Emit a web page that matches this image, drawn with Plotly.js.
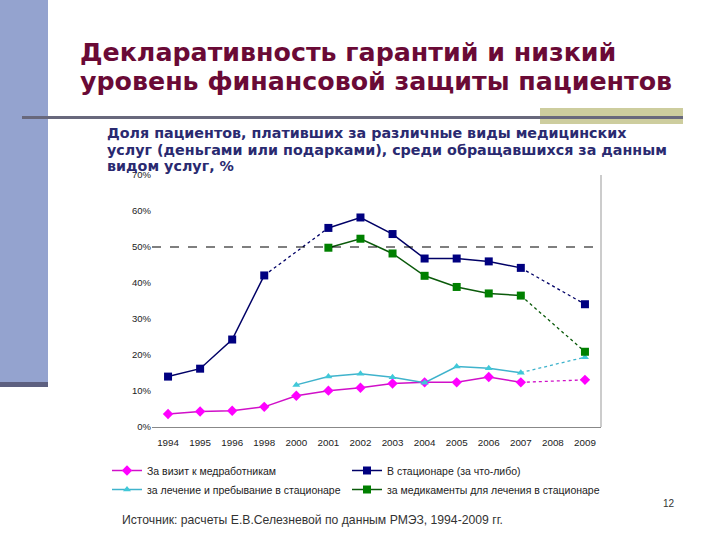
<!DOCTYPE html>
<html>
<head>
<meta charset="utf-8">
<script src="https://cdn.plot.ly/plotly-3.0.1.min.js"></script>
<style>
  html, body { margin: 0; padding: 0; background: #fff; }
  #chart { width: 720px; height: 540px; }
</style>
</head>
<body>
<div id="chart"></div>
<script>
// Years on the category axis (2008 has no observations)
var years = ["1994", "1995", "1996", "1998", "2000", "2001", "2002", "2003", "2004", "2005", "2006", "2007", "2008", "2009"];

// Values, %
var visitVals    = [3.6, 4.3, 4.5, 5.6, 8.7, 10.1, 10.9, 12.1, 12.4, 12.4, 13.9, 12.4, null, 13.1];
var hospitalVals = [14.0, 16.2, 24.3, 42.1, null, 55.3, 58.2, 53.6, 46.8, 46.8, 46.0, 44.2, null, 34.1];
var treatVals    = [null, null, null, null, 11.7, 14.0, 14.8, 13.8, 12.3, 16.8, 16.3, 15.1, null, 19.4];
var drugsVals    = [null, null, null, null, null, 49.8, 52.3, 48.2, 42.0, 38.9, 37.1, 36.5, null, 20.9];

var yTicks = [0, 10, 20, 30, 40, 50, 60, 70];
var yTickText = yTicks.map(function(v) { return v + "%"; });

var titleLines = ["Декларативность гарантий и низкий", "уровень финансовой защиты пациентов"];
var subtitleLines = [
  "Доля пациентов, плативших за различные виды медицинских",
  "услуг (деньгами или подарками), среди обращавшихся за данным",
  "видом услуг, %"
];

var W = 720, H = 540;
var M = { l: 152, r: 119, t: 175, b: 113 };
var pw = W - M.l - M.r, ph = H - M.t - M.b;
function px(x) { return (x - M.l) / pw; }
function py(y) { return (H - M.b - y) / ph; }

// legend: left column "legend", right column "legend2"
var series = [
  { name: "За визит к медработникам", vals: visitVals, line: "#d010c8", marker: "#ff00ff", symbol: "diamond", size: 8, legend: "legend" },
  { name: "В стационаре (за что-либо)", vals: hospitalVals, line: "#000066", marker: "#000080", symbol: "square", size: 8, legend: "legend2" },
  { name: "за лечение и пребывание в стационаре", vals: treatVals, line: "#3fb3cc", marker: "#40c8d8", symbol: "triangle-up", size: 7, legend: "legend" },
  { name: "за медикаменты для лечения в стационаре", vals: drugsVals, line: "#0a5a0a", marker: "#008000", symbol: "square", size: 8, legend: "legend2" }
];

// pairs of known points with only missing values between them
function gapPairs(vals) {
  var pairs = [], last = -1;
  vals.forEach(function(v, i) {
    if (v === null) return;
    if (last >= 0 && i > last + 1) pairs.push([last, i]);
    last = i;
  });
  return pairs;
}

var traces = [];
series.forEach(function(s) {
  gapPairs(s.vals).forEach(function(p) {
    traces.push({
      type: "scatter", mode: "lines", showlegend: false, hoverinfo: "skip",
      x: [years[p[0]], years[p[1]]], y: [s.vals[p[0]], s.vals[p[1]]],
      line: { color: s.line, width: 1.3, dash: "dot" }
    });
  });
});
series.forEach(function(s) {
  traces.push({
    type: "scatter", mode: "lines+markers", name: s.name, legend: s.legend,
    x: years, y: s.vals, connectgaps: false,
    line: { color: s.line, width: 1.5 },
    marker: { color: s.marker, symbol: s.symbol, size: s.size, line: { width: 0 } }
  });
});

var shapes = [
  // left decorative band
  { type: "rect", xref: "paper", yref: "paper", x0: px(0), x1: px(48), y0: py(384), y1: py(0),
    fillcolor: "#94a3cf", line: { width: 0 }, layer: "below" },
  { type: "rect", xref: "paper", yref: "paper", x0: px(0), x1: px(48), y0: py(387), y1: py(382),
    fillcolor: "#5d6080", line: { width: 0 }, layer: "below" },
  // khaki block and rule under the title
  { type: "rect", xref: "paper", yref: "paper", x0: px(540), x1: px(683), y0: py(124), y1: py(108),
    fillcolor: "#cdcd9e", line: { width: 0 }, layer: "below" },
  { type: "line", xref: "paper", yref: "paper", x0: px(22), x1: px(683), y0: py(117.5), y1: py(117.5),
    line: { color: "#68687c", width: 3 } },
  // 50% reference line
  { type: "line", xref: "paper", yref: "y", x0: 0, x1: 1, y0: 50, y1: 50,
    line: { color: "#000", width: 1.2, dash: "dash" } },
  // right border of the plot area
  { type: "line", xref: "paper", yref: "paper", x0: 1, x1: 1, y0: 0, y1: 1,
    line: { color: "#999", width: 1 } }
];

var annotations = [];
titleLines.forEach(function(t, i) {
  annotations.push({
    text: t, xref: "paper", yref: "paper", x: px(78), y: py(36 + i * 29),
    xanchor: "left", yanchor: "top", showarrow: false,
    font: { family: "DejaVu Sans", size: 25.3, color: "#6a0a36", weight: "bold" }
  });
});
subtitleLines.forEach(function(t, i) {
  annotations.push({
    text: t, xref: "paper", yref: "paper", x: px(105), y: py(123 + i * 16.5),
    xanchor: "left", yanchor: "top", showarrow: false,
    font: { family: "DejaVu Sans", size: 14.3, color: "#2a2a70", weight: "bold" }
  });
});
annotations.push(
  { text: "12", xref: "paper", yref: "paper", x: px(677), y: py(503), xanchor: "right", yanchor: "middle",
    showarrow: false, font: { family: "Liberation Sans", size: 10, color: "#333" } },
  { text: "Источник: расчеты Е.В.Селезневой по данным РМЭЗ, 1994-2009 гг.",
    xref: "paper", yref: "paper", x: px(120), y: py(520), xanchor: "left", yanchor: "middle",
    showarrow: false, font: { family: "Liberation Sans", size: 12.2, color: "#333" } }
);

function legendBox(xPix) {
  return {
    orientation: "v", x: px(xPix), y: py(456), xanchor: "left", yanchor: "top",
    itemwidth: 30, tracegroupgap: 0,
    font: { family: "Liberation Sans", size: 10.5, color: "#222" },
    bgcolor: "rgba(0,0,0,0)"
  };
}

var layout = {
  width: W, height: H,
  margin: M,
  paper_bgcolor: "#fff", plot_bgcolor: "#fff",
  font: { family: "Liberation Sans", size: 9, color: "#222" },
  showlegend: true,
  legend: legendBox(107),
  legend2: legendBox(347),
  xaxis: {
    type: "category", categoryorder: "array", categoryarray: years,
    range: [-0.5, years.length - 0.5],
    showline: true, linecolor: "#888", linewidth: 1,
    showgrid: false, zeroline: false, ticks: "", ticklabelstandoff: 6,
    tickfont: { family: "Liberation Sans", size: 9.8, color: "#222" }
  },
  yaxis: {
    range: [0, 70], tickvals: yTicks, ticktext: yTickText,
    showline: false, showgrid: false, zeroline: false, ticks: "",
    tickfont: { family: "Liberation Sans", size: 9.5, color: "#222" }
  },
  shapes: shapes,
  annotations: annotations
};

Plotly.newPlot("chart", traces, layout, { staticPlot: true, displaylogo: false });
</script>
</body>
</html>
